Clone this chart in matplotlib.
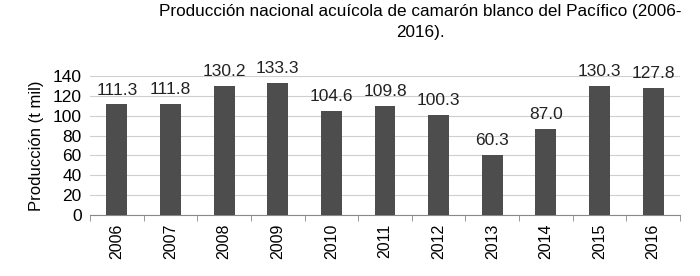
import matplotlib.pyplot as plt
import numpy as np

# data
years = ['2006', '2007', '2008', '2009', '2010', '2011', '2012', '2013', '2014', '2015', '2016']
produccion = [111.3, 111.8, 130.2, 133.3, 104.6, 109.8, 100.3, 60.3, 87.0, 130.3, 127.8]

plt.rcParams['font.family'] = ['Liberation Sans', 'DejaVu Sans']

fig = plt.figure(figsize=(7, 2.76), dpi=100)
ax = fig.add_axes([90 / 700, 1 - 215 / 276, 590 / 700, 139 / 276])

x = np.arange(len(years))
ax.bar(x, produccion, width=0.39, color='#4d4d4d', zorder=3)

for xi, v in zip(x, produccion):
    ax.annotate(f'{v:.1f}', (xi, v), xytext=(0, 5), textcoords='offset points',
                ha='center', va='bottom', fontsize=12.5, color='#222222')

ax.set_xlim(-0.5, len(years) - 0.5)
ax.set_ylim(0, 140)
ax.set_yticks(range(0, 141, 20))
ax.set_xticks(x)
ax.set_xticklabels(years, rotation=90, fontsize=11.5)
ax.tick_params(axis='y', labelsize=12.5, length=0, pad=6)
ax.tick_params(axis='x', length=0, pad=6)
# small separators between categories
ax.set_xticks(np.arange(-0.5, len(years)), minor=True)
ax.tick_params(axis='x', which='minor', length=4, color='#888888')

ax.grid(axis='y', color='#cfcfcf', linewidth=0.8, zorder=0)
for s in ['top', 'right', 'left']:
    ax.spines[s].set_visible(False)
ax.spines['bottom'].set_color('#888888')

ax.set_ylabel('Producción (t mil)', fontsize=12, labelpad=6)

fig.text(0.6, 0.985, 'Producción nacional acuícola de camarón blanco del Pacífico (2006-\n2016).',
         ha='center', va='top', fontsize=12.3, linespacing=1.45)

fig.savefig('out.png', dpi=100)
